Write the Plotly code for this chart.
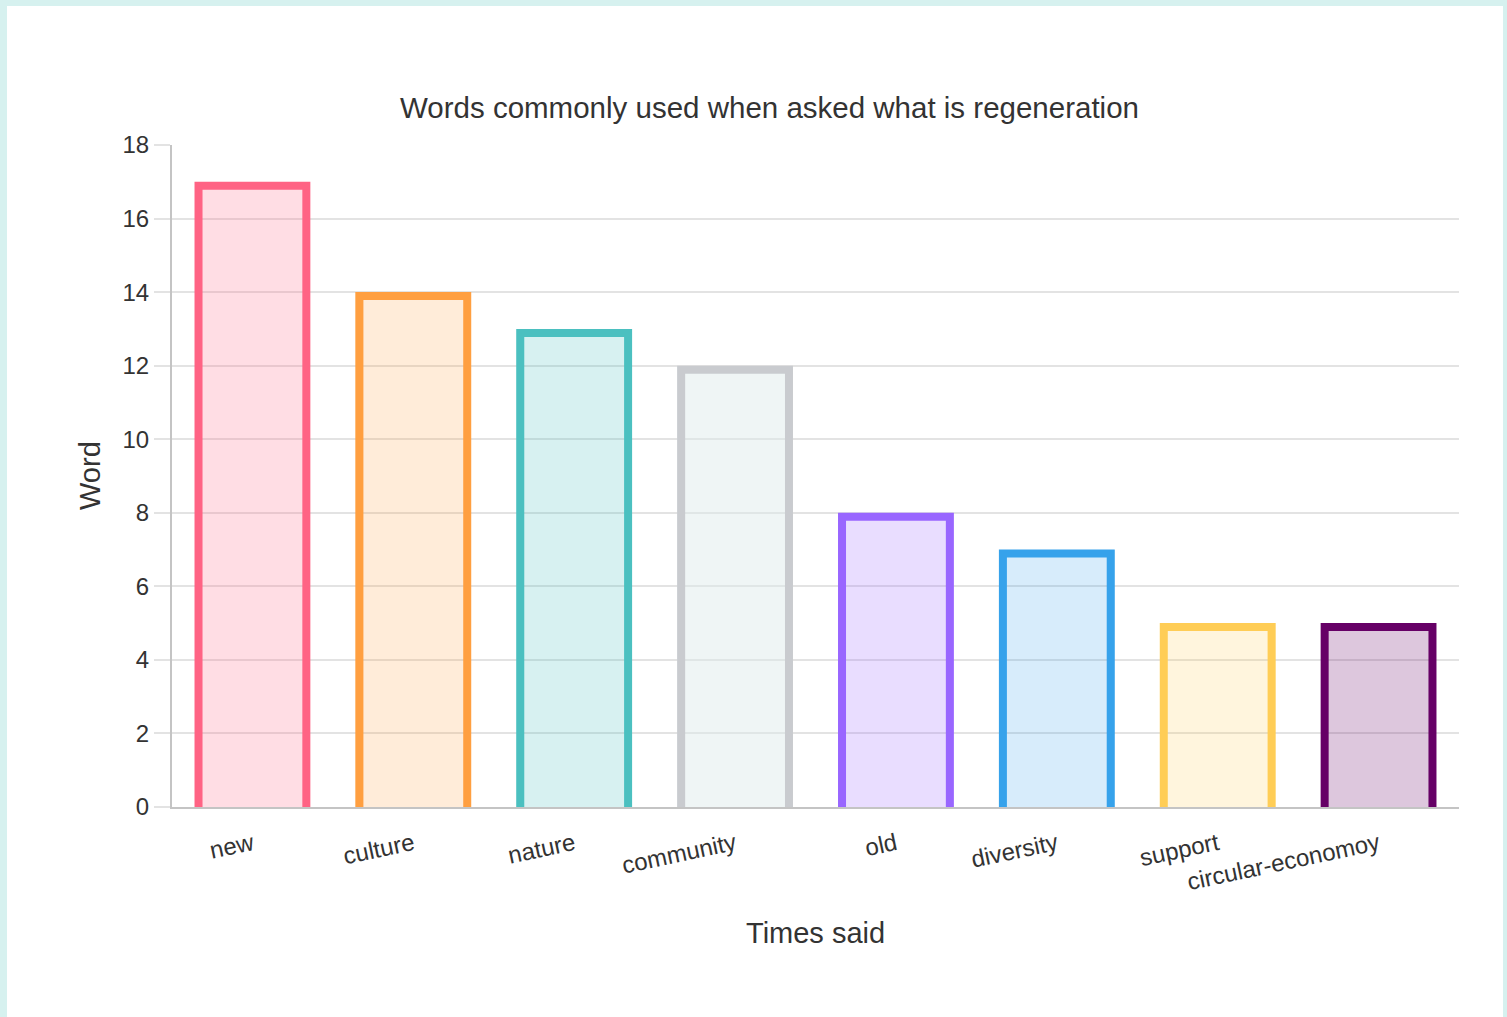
import plotly.graph_objects as go

# ---- data ----
words = ["new", "culture", "nature", "community", "old", "diversity", "support", "circular-economoy"]
times_said = [17, 14, 13, 12, 8, 7, 5, 5]
y_ticks = [0, 2, 4, 6, 8, 10, 12, 14, 16, 18]

# ---- styles ----
border_colors = ["rgb(255,99,132)", "rgb(255,159,64)", "rgb(75,192,192)", "rgb(201,203,207)",
                 "rgb(153,102,255)", "rgb(54,162,235)", "rgb(255,205,86)", "rgb(102,0,102)"]
fill_colors = ["rgba(255,99,132,0.22)", "rgba(255,159,64,0.2)", "rgba(75,192,192,0.22)", "rgba(220,232,232,0.45)",
               "rgba(153,102,255,0.22)", "rgba(54,162,235,0.2)", "rgba(255,205,86,0.2)", "rgba(102,0,102,0.22)"]

W, H = 1507, 1017
L, R, T, B = 172, 48, 145, 210
plot_w = W - L - R
plot_h = H - T - B
ymax = 18
bar_frac = 0.72
border_px = 8
n = len(words)
px_per_x = plot_w / n
px_per_y = plot_h / ymax
dx = (border_px / 2) / px_per_x
dy = (border_px / 2) / px_per_y

FONT = "Liberation Sans, Arial, Helvetica, sans-serif"
TXT = "#333333"

fig = go.Figure()
idx = list(range(n))
fig.add_trace(go.Bar(
    x=idx, y=times_said, width=bar_frac,
    marker=dict(color=fill_colors, line=dict(width=0)),
    hoverinfo="x+y", showlegend=False,
))
for i, v in enumerate(times_said):
    xl = i - bar_frac / 2 + dx
    xr = i + bar_frac / 2 - dx
    yt = v - dy
    fig.add_trace(go.Scatter(
        x=[xl, xl, xr, xr], y=[0, yt, yt, 0], mode="lines",
        line=dict(color=border_colors[i], width=border_px),
        hoverinfo="skip", showlegend=False,
    ))

fig.update_layout(
    width=W, height=H,
    margin=dict(l=L, r=R, t=T, b=B, pad=0),
    paper_bgcolor="#d6f1ef",
    plot_bgcolor="rgba(0,0,0,0)",
    font=dict(family=FONT, color=TXT),
    title=dict(text="Words commonly used when asked what is regeneration",
               font=dict(size=29.5, color=TXT, family=FONT),
               x=769.5 / W, xref="container", xanchor="center",
               y=1 - 108 / H, yref="container", yanchor="middle"),
    xaxis=dict(range=[-0.5, n - 0.5], tickvals=idx, ticktext=words, tickangle=-12,
               showgrid=False, zeroline=False, showline=True, linecolor="#c4c4c4", linewidth=2,
               ticks="", ticklabelstandoff=12, tickfont=dict(size=24, color=TXT), fixedrange=True),
    yaxis=dict(range=[0, ymax], tickvals=y_ticks, showgrid=True, gridcolor="#e3e3e3", gridwidth=1.5,
               zeroline=False, showline=True, linecolor="#c4c4c4", linewidth=2,
               ticks="outside", ticklen=16, tickcolor="#e3e3e3", tickwidth=1.5,
               ticklabelstandoff=0, tickfont=dict(size=24, color=TXT), fixedrange=True),
    shapes=[dict(type="rect", xref="paper", yref="paper", layer="below",
                 x0=(7 - L) / plot_w, x1=(1503 - L) / plot_w,
                 y0=-(H + 20 - T - plot_h) / plot_h, y1=(H - 6 - B) / plot_h,
                 fillcolor="white", line=dict(width=0))],
    annotations=[
        dict(text="Word", xref="paper", yref="paper", x=(90 - L) / plot_w, y=0.5,
             textangle=-90, showarrow=False, xanchor="center", yanchor="middle",
             font=dict(size=29, color=TXT, family=FONT)),
        dict(text="Times said", xref="paper", yref="paper", x=(815.5 - L) / plot_w,
             y=-(933 - T - plot_h) / plot_h, showarrow=False, xanchor="center", yanchor="middle",
             font=dict(size=29, color=TXT, family=FONT)),
    ],
    bargap=0,
)

fig.write_html("out.html")
